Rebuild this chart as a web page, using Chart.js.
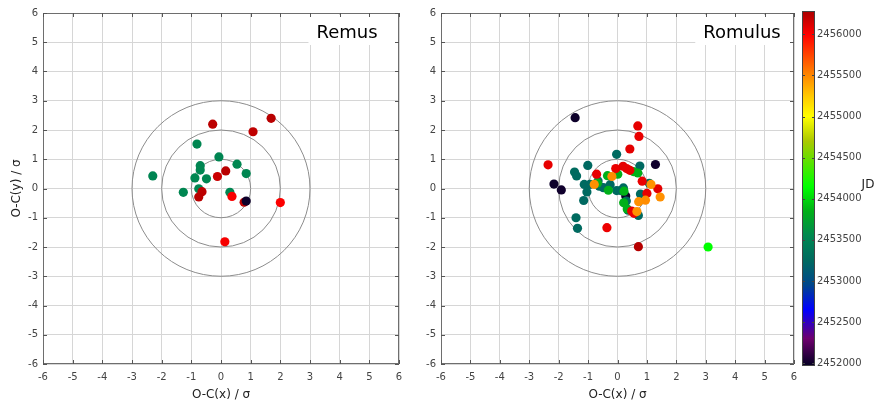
<!DOCTYPE html>
<html lang="en">
<head>
<meta charset="UTF-8">
<title>O-C residuals: Remus and Romulus</title>
<script src="https://cdn.jsdelivr.net/npm/chart.js"></script>
<style>
  * { margin: 0; padding: 0; box-sizing: border-box; }
  body { background: #fff; width: 876px; height: 408px; overflow: hidden; position: relative; }
  canvas { position: absolute; top: 0; }
  #remusChart { left: 0; }
  #romulusChart { left: 420px; }
</style>
</head>
<body>
<canvas id="remusChart" width="420" height="408"></canvas>
<canvas id="romulusChart" width="456" height="408"></canvas>

<script>
const FONT = '"DejaVu Sans", sans-serif';

// axis ticks and reference circles (in sigma)
const axisTicks = [-6, -5, -4, -3, -2, -1, 0, 1, 2, 3, 4, 5, 6];
const ringRadii = [1, 2, 3];

// colour bar (Julian date)
const jdTicks = [2452000, 2452500, 2453000, 2453500, 2454000, 2454500, 2455000, 2455500, 2456000];
const jdMin = 2451990;
const jdMax = 2456260;

// Remus residuals
const remusX = [-0.81, -0.07, 0.54, 0.85, -0.70, -0.70, -0.88, -0.49, -2.30, -1.27, -0.75, 0.30,
                -0.28, 1.69, 1.08, 0.16, -0.12, -0.64, -0.75, 0.78,
                0.37, 2.00, 0.13,
                0.85];
const remusY = [1.52, 1.08, 0.83, 0.51, 0.78, 0.63, 0.36, 0.33, 0.43, -0.13, -0.01, -0.13,
                2.20, 2.40, 1.94, 0.60, 0.41, -0.11, -0.29, -0.47,
                -0.27, -0.48, -1.82,
                -0.43];
const remusJD = [2453530, 2453520, 2453540, 2453530, 2453520, 2453530, 2453540, 2453530, 2453520, 2453530, 2453540, 2453530,
                 2456220, 2456230, 2456210, 2456230, 2456170, 2456220, 2456230, 2456220,
                 2456020, 2456010, 2456030,
                 2452000];

// Romulus residuals
const romulusX = [-1.44, 1.29, -2.16, -1.91, 0.28,
                  -0.03, -1.01, -1.46, -1.39, -1.13, -0.94, -0.62, -0.66, -0.48, -0.25, -0.03, 0.11, 0.20, 0.76, 1.08, 0.78, -1.04, -1.15, -1.41, -1.36, 0.30, 0.36, 0.71,
                  -0.34, 0.01, 0.54, 0.69, -0.68, -0.31, 0.22, 0.21, 0.33,
                  3.08,
                  0.69, 0.73, 0.42, -2.36, -0.36, -0.71, -0.06, 0.19, 0.31, 0.42, 0.84, 1.37, 1.00, 0.48, 0.56,
                  0.71,
                  -0.79, -0.19, 1.14, 1.45, 0.95, 0.72, 0.66];
const romulusY = [2.42, 0.82, 0.15, -0.05, -0.26,
                  1.17, 0.79, 0.56, 0.43, 0.14, 0.14, 0.08, 0.26, 0.03, 0.13, -0.07, -0.07, 0.02, 0.77, 0.18, -0.19, -0.12, -0.41, -1.00, -1.36, -0.43, -0.74, -0.92,
                  0.44, 0.49, 0.58, 0.53, 0.19, -0.06, -0.09, -0.49, -0.70,
                  -2.00,
                  2.14, 1.78, 1.35, 0.81, -1.34, 0.49, 0.68, 0.76, 0.68, 0.62, 0.25, -0.01, -0.17, -0.77, -0.85,
                  -1.99,
                  0.14, 0.41, 0.14, -0.29, -0.40, -0.45, -0.79];
const romulusJD = [2452000, 2452010, 2452000, 2452010, 2452000,
                   2453250, 2453240, 2453260, 2453250, 2453250, 2453240, 2453260, 2453250, 2453250, 2453240, 2453260, 2453250, 2453250, 2453240, 2453260, 2453250, 2453250, 2453240, 2453260, 2453250, 2453250, 2453240, 2453250,
                   2453850, 2453840, 2453860, 2453850, 2453850, 2453840, 2453860, 2453850, 2453850,
                   2454150,
                   2456080, 2456070, 2456090, 2456080, 2456060, 2456080, 2456070, 2456090, 2456080, 2456080, 2456070, 2456090, 2456080, 2456080, 2456070,
                   2456240,
                   2455470, 2455480, 2455460, 2455470, 2455480, 2455470, 2455460];

// colour map: JD -> rgb
const cmapJD  = [2451990, 2452300, 2452650, 2452950, 2453250, 2453550, 2453850, 2454150, 2454700, 2455000, 2455250, 2455500, 2456000, 2456260];
const cmapRGB = [[10, 0, 40], [110, 0, 110], [0, 0, 255], [0, 70, 140], [0, 106, 96], [0, 136, 80], [0, 176, 24],
                 [0, 255, 0], [170, 200, 0], [255, 255, 0], [255, 200, 0], [255, 136, 0], [255, 0, 0], [176, 0, 0]];

function rgb(c) { return 'rgb(' + c.map(Math.round).join(',') + ')'; }

function jdColor(jd) {
  if (jd <= cmapJD[0]) return rgb(cmapRGB[0]);
  for (let i = 1; i < cmapJD.length; i++) {
    if (jd <= cmapJD[i]) {
      const t = (jd - cmapJD[i - 1]) / (cmapJD[i] - cmapJD[i - 1]);
      const a = cmapRGB[i - 1], b = cmapRGB[i];
      return rgb([0, 1, 2].map(k => a[k] + (b[k] - a[k]) * t));
    }
  }
  return rgb(cmapRGB[cmapRGB.length - 1]);
}

function toPoints(xs, ys, jds) {
  return xs.map((x, i) => ({ x: x, y: ys[i], jd: jds[i] }));
}

// rings, name box, frame and inward tick marks
const panelDecor = {
  id: 'panelDecor',
  beforeDatasetsDraw(chart, args, opts) {
    const { ctx, chartArea: a, scales: { x, y } } = chart;
    ctx.save();

    const cx = x.getPixelForValue(0), cy = y.getPixelForValue(0);
    ctx.strokeStyle = '#8c8c8c';
    ctx.lineWidth = 1;
    ringRadii.forEach(r => {
      ctx.beginPath();
      ctx.ellipse(cx, cy, x.getPixelForValue(r) - cx, cy - y.getPixelForValue(r), 0, 0, Math.PI * 2);
      ctx.stroke();
    });

    ctx.font = '18px ' + FONT;
    const tw = ctx.measureText(opts.label).width;
    const tx = a.right - 52;
    const boxLeft = tx - tw / 2 - 8;
    ctx.fillStyle = '#fff';
    ctx.fillRect(boxLeft, a.top + 2, a.right - 2 - boxLeft, 30);
    ctx.fillStyle = '#000';
    ctx.textAlign = 'center';
    ctx.textBaseline = 'alphabetic';
    ctx.fillText(opts.label, tx, a.top + 25);

    ctx.strokeStyle = '#6e6e6e';
    ctx.strokeRect(Math.round(a.left) + 0.5, Math.round(a.top) + 0.5,
                   Math.round(a.right - a.left) - 1, Math.round(a.bottom - a.top) - 1);

    ctx.strokeStyle = '#555';
    ctx.beginPath();
    axisTicks.forEach(v => {
      const px = Math.round(x.getPixelForValue(v)) + 0.5;
      ctx.moveTo(px, a.top); ctx.lineTo(px, a.top + 4);
      ctx.moveTo(px, a.bottom); ctx.lineTo(px, a.bottom - 4);
      const py = Math.round(y.getPixelForValue(v)) + 0.5;
      ctx.moveTo(a.left, py); ctx.lineTo(a.left + 4, py);
      ctx.moveTo(a.right, py); ctx.lineTo(a.right - 4, py);
    });
    ctx.stroke();
    ctx.restore();
  }
};

// colour bar drawn next to the JD axis
const colorBar = {
  id: 'colorBar',
  afterDraw(chart) {
    const jd = chart.scales.jd;
    if (!jd) return;
    const { ctx } = chart;
    const bx = jd.left + 8, bw = 13;
    const top = jd.top - 2, bot = jd.bottom + 2;
    ctx.save();
    const g = ctx.createLinearGradient(0, bot, 0, top);
    cmapJD.forEach((v, i) => {
      let f = (jd.getPixelForValue(v) - bot) / (top - bot);
      f = Math.min(1, Math.max(0, f));
      g.addColorStop(f, rgb(cmapRGB[i]));
    });
    ctx.fillStyle = g;
    ctx.fillRect(bx, top, bw, bot - top);
    ctx.strokeStyle = '#444';
    ctx.lineWidth = 1;
    ctx.strokeRect(bx + 0.5, top + 0.5, bw - 1, bot - top - 1);
    ctx.beginPath();
    jdTicks.forEach(v => {
      const py = Math.round(jd.getPixelForValue(v)) + 0.5;
      ctx.moveTo(bx, py); ctx.lineTo(bx + 3, py);
      ctx.moveTo(bx + bw, py); ctx.lineTo(bx + bw - 3, py);
    });
    ctx.stroke();
    ctx.fillStyle = '#222';
    ctx.font = '12px ' + FONT;
    ctx.textAlign = 'center';
    ctx.textBaseline = 'middle';
    ctx.fillText('JD', chart.width - 8, (jd.top + jd.bottom) / 2 - 4);
    ctx.restore();
  }
};

function residualScale(axis, fitSize, showTitle, titleText) {
  const horiz = axis === 'x';
  return {
    type: 'linear',
    min: -6,
    max: 6,
    afterBuildTicks: s => { s.ticks = axisTicks.map(v => ({ value: v })); },
    afterFit: s => { if (horiz) s.height = fitSize; else s.width = fitSize; },
    grid: { color: '#d6d6d6', lineWidth: 1, drawTicks: false },
    border: { display: false },
    ticks: { color: '#444', font: { family: FONT, size: 10 }, padding: horiz ? 7 : 5, maxRotation: 0 },
    title: {
      display: showTitle,
      text: titleText,
      color: '#222',
      font: { family: FONT, size: 12 },
      padding: horiz ? { top: 0, bottom: 6 } : { top: 10, bottom: 0 }
    }
  };
}

function makeChart(id, label, points, scales, padding, plugins) {
  return new Chart(document.getElementById(id), {
    type: 'scatter',
    data: {
      datasets: [{
        data: points,
        pointRadius: 4.6,
        pointHoverRadius: 4.6,
        pointBorderWidth: 0,
        pointBackgroundColor: ctx => jdColor(ctx.raw ? ctx.raw.jd : jdMin),
        pointBorderColor: ctx => jdColor(ctx.raw ? ctx.raw.jd : jdMin)
      }]
    },
    options: {
      responsive: false,
      animation: false,
      events: [],
      devicePixelRatio: 1,
      layout: { padding: padding },
      scales: scales,
      plugins: {
        legend: { display: false },
        tooltip: { enabled: false },
        panelDecor: { label: label }
      }
    },
    plugins: plugins
  });
}

makeChart('remusChart', 'Remus', toPoints(remusX, remusY, remusJD), {
  x: residualScale('x', 44, true, 'O-C(x) / σ'),
  y: residualScale('y', 43, true, 'O-C(y) / σ')
}, { top: 13, right: 21, left: 0, bottom: 0 }, [panelDecor]);

makeChart('romulusChart', 'Romulus', toPoints(romulusX, romulusY, romulusJD), {
  x: residualScale('x', 44, true, 'O-C(x) / σ'),
  y: residualScale('y', 21, false, ''),
  jd: {
    type: 'linear',
    position: 'right',
    min: jdMin,
    max: jdMax,
    afterBuildTicks: s => { s.ticks = jdTicks.map(v => ({ value: v })); },
    afterFit: s => { s.width = 82; s.paddingTop = 0; s.paddingBottom = 0; },
    grid: { display: false, drawTicks: false },
    border: { display: false },
    ticks: { color: '#444', font: { family: FONT, size: 10 }, padding: 23, callback: v => String(v) }
  }
}, { top: 13, right: 0, left: 0, bottom: 0 }, [panelDecor, colorBar]);
</script>
</body>
</html>
